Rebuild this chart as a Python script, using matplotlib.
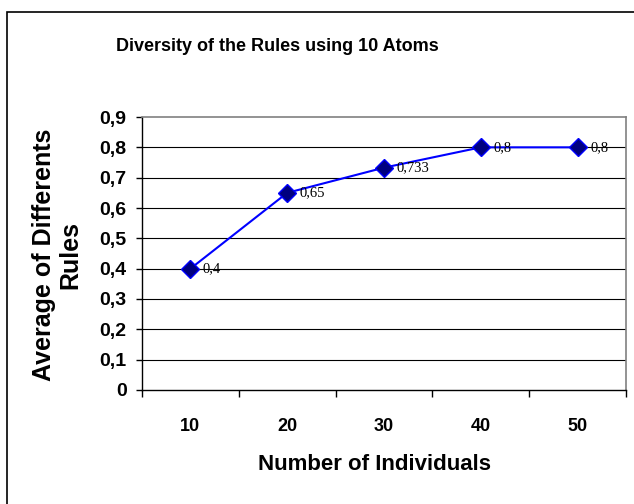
import matplotlib.pyplot as plt
from matplotlib.patches import Rectangle

# chart data
categories = ['10', '20', '30', '40', '50']
values = [0.4, 0.65, 0.733, 0.8, 0.8]
value_labels = ['0,4', '0,65', '0,733', '0,8', '0,8']
y_ticks = [0, 0.1, 0.2, 0.3, 0.4, 0.5, 0.6, 0.7, 0.8, 0.9]
y_tick_labels = ['0', '0,1', '0,2', '0,3', '0,4', '0,5', '0,6', '0,7', '0,8', '0,9']

W, H = 634, 504
plt.rcParams['font.family'] = ['Liberation Sans', 'DejaVu Sans']

fig = plt.figure(figsize=(W / 100, H / 100), dpi=100)

# outer chart border (cut off on the right and bottom)
fig.patches.append(Rectangle((7 / W, -0.1), 1.2, (H - 12) / H + 0.1,
                             transform=fig.transFigure, fill=False,
                             edgecolor='black', linewidth=1.2))

# plot area in pixels: x 142..626, y 117..390
ax = fig.add_axes([142 / W, (H - 390) / H, 484 / W, 273 / H])

x = list(range(len(categories)))
ax.plot(x, values, color='#0000FF', linewidth=1.5, marker='D', markersize=9,
        markerfacecolor='#000080', markeredgecolor='#0000FF', markeredgewidth=1,
        zorder=3)

for xi, v, lab in zip(x, values, value_labels):
    ax.annotate(lab, (xi, v), xytext=(9, 0), textcoords='offset points',
                va='center', ha='left', fontsize=10.5, family='Liberation Serif')

ax.set_xlim(-0.5, len(categories) - 0.5)
ax.set_ylim(0, 0.9)

# y axis
ax.set_yticks(y_ticks)
ax.set_yticklabels(y_tick_labels, fontsize=14, fontweight='bold')
ax.tick_params(axis='y', direction='out', length=4, width=1, pad=7)

# x axis: tick marks at the category boundaries, labels in the middle
ax.set_xticks([i - 0.5 for i in range(len(categories) + 1)])
ax.set_xticklabels([])
ax.set_xticks(x, minor=True)
ax.set_xticklabels(categories, minor=True, fontsize=13, fontweight='bold')
ax.tick_params(axis='x', which='major', direction='out', length=5, width=1)
ax.tick_params(axis='x', which='minor', length=0, pad=20)

# gridlines
for yv in y_ticks[1:-1]:
    ax.axhline(yv, color='black', linewidth=0.8, zorder=1)

for side in ['top', 'right']:
    ax.spines[side].set_color('#808080')
    ax.spines[side].set_linewidth(1.2)
for side in ['left', 'bottom']:
    ax.spines[side].set_color('black')
    ax.spines[side].set_linewidth(1)

ax.set_xlabel('Number of Individuals', fontsize=16, fontweight='bold')
ax.xaxis.set_label_coords((374 - 142) / 484, -0.235)

fig.text(57 / W, 1 - 255 / H, 'Average of Differents\nRules', rotation=90,
         ha='center', va='center', fontsize=18, fontweight='bold',
         linespacing=1.15, multialignment='center')

fig.text(277 / W, 1 - 51 / H, 'Diversity of the Rules using 10 Atoms',
         ha='center', va='baseline', fontsize=13, fontweight='bold')

fig.savefig('out.png', dpi=100)
